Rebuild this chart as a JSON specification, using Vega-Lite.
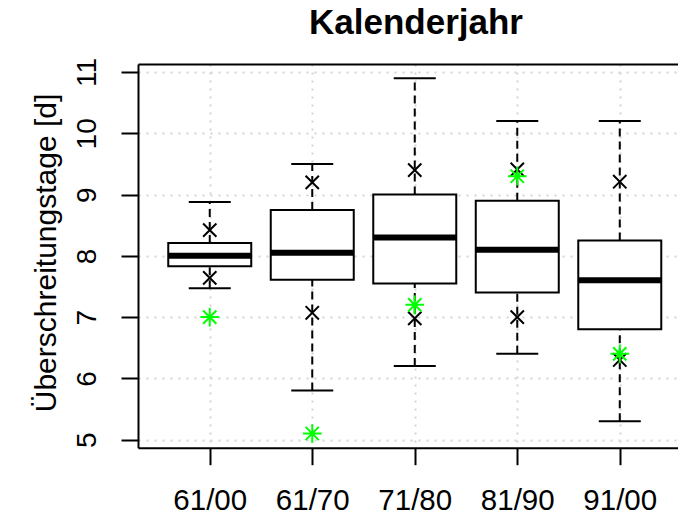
{
  "$schema": "https://vega.github.io/schema/vega-lite/v6.json",
  "autosize": {"type": "none"},
  "padding": {"left": 138, "top": 64, "right": 0, "bottom": 73.3},
  "width": 540,
  "height": 383.7,
  "title": {
    "text": "Kalenderjahr",
    "font": "Liberation Sans",
    "fontSize": 35,
    "fontWeight": "bold",
    "color": "black",
    "anchor": "middle",
    "frame": "group",
    "baseline": "alphabetic",
    "offset": -11.5,
    "dx": 8
  },
  "data": {
    "values": [
      {"period": "61/00", "lo": 7.47, "q1": 7.83, "med": 8.0, "q3": 8.21, "hi": 8.88, "xa": 8.42, "xb": 7.64, "star": 7.0},
      {"period": "61/70", "lo": 5.8, "q1": 7.61, "med": 8.05, "q3": 8.75, "hi": 9.5, "xa": 9.2, "xb": 7.07, "star": 5.1},
      {"period": "71/80", "lo": 6.2, "q1": 7.55, "med": 8.3, "q3": 9.0, "hi": 10.9, "xa": 9.4, "xb": 6.98, "star": 7.2},
      {"period": "81/90", "lo": 6.4, "q1": 7.4, "med": 8.1, "q3": 8.9, "hi": 10.2, "xa": 9.41, "xb": 7.0, "star": 9.3},
      {"period": "91/00", "lo": 5.3, "q1": 6.8, "med": 7.6, "q3": 8.25, "hi": 10.2, "xa": 9.21, "xb": 6.3, "star": 6.4}
    ]
  },
  "resolve": {"axis": {"x": "independent", "y": "independent"}},
  "layer": [
    {
      "mark": {"type": "rule", "color": "black", "strokeWidth": 2, "strokeDash": [8, 5]},
      "encoding": {
        "x": {
          "field": "period", "type": "nominal", "sort": null,
          "scale": {"type": "point", "padding": 0.634, "align": 0.552},
          "axis": {"orient": "bottom", "title": null, "labelAngle": 0, "labelBaseline": "alphabetic", "labelPadding": 45, "labelFontSize": 29.5, "grid": true}
        },
        "y": {
          "field": "lo", "type": "quantitative",
          "scale": {"domain": [4.868, 11.132], "nice": false, "zero": false},
          "axis": {
            "orient": "left",
            "values": [5, 6, 7, 8, 9, 10, 11],
            "grid": true,
            "labelAngle": 270,
            "labelAlign": "center",
            "labelBaseline": "alphabetic",
            "labelPadding": 26,
            "labelOverlap": false,
            "title": "Überschreitungstage [d]",
            "titleFontSize": 30,
            "titleAngle": 270,
            "titleAlign": "center",
            "titleBaseline": "alphabetic",
            "titleX": -83,
            "titleY": 188.5
          }
        },
        "y2": {"field": "q1"}
      }
    },
    {
      "mark": {"type": "rule", "color": "black", "strokeWidth": 2, "strokeDash": [8, 5]},
      "encoding": {
        "x": {"field": "period", "type": "nominal", "sort": null, "axis": null},
        "y": {"field": "q3", "type": "quantitative", "axis": null},
        "y2": {"field": "hi"}
      }
    },
    {
      "mark": {"type": "tick", "orient": "horizontal", "color": "black", "size": 42, "thickness": 2, "opacity": 1},
      "encoding": {
        "x": {"field": "period", "type": "nominal", "sort": null, "axis": null},
        "y": {"field": "hi", "type": "quantitative", "axis": null}
      }
    },
    {
      "mark": {"type": "tick", "orient": "horizontal", "color": "black", "size": 42, "thickness": 2, "opacity": 1},
      "encoding": {
        "x": {"field": "period", "type": "nominal", "sort": null, "axis": null},
        "y": {"field": "lo", "type": "quantitative", "axis": null}
      }
    },
    {
      "mark": {"type": "bar", "width": 83, "fill": "white", "stroke": "black", "strokeWidth": 2},
      "encoding": {
        "x": {"field": "period", "type": "nominal", "sort": null, "axis": null},
        "y": {"field": "q1", "type": "quantitative", "axis": null},
        "y2": {"field": "q3"}
      }
    },
    {
      "mark": {"type": "tick", "orient": "horizontal", "color": "black", "size": 83, "thickness": 6, "opacity": 1},
      "encoding": {
        "x": {"field": "period", "type": "nominal", "sort": null, "axis": null},
        "y": {"field": "med", "type": "quantitative", "axis": null}
      }
    },
    {
      "mark": {"type": "point", "shape": "M-1,-1L1,1M-1,1L1,-1", "filled": false, "stroke": "black", "strokeWidth": 2, "size": 177, "opacity": 1},
      "encoding": {
        "x": {"field": "period", "type": "nominal", "sort": null, "axis": null},
        "y": {"field": "xa", "type": "quantitative", "axis": null}
      }
    },
    {
      "mark": {"type": "point", "shape": "M-1,-1L1,1M-1,1L1,-1", "filled": false, "stroke": "black", "strokeWidth": 2, "size": 177, "opacity": 1},
      "encoding": {
        "x": {"field": "period", "type": "nominal", "sort": null, "axis": null},
        "y": {"field": "xb", "type": "quantitative", "axis": null}
      }
    },
    {
      "mark": {"type": "point", "shape": "M-1,-1L1,1M-1,1L1,-1M-1.414,0L1.414,0M0,-1.414L0,1.414", "filled": false, "stroke": "#00ff00", "strokeWidth": 2, "size": 175, "opacity": 1},
      "encoding": {
        "x": {
          "field": "period", "type": "nominal", "sort": null,
          "axis": {"orient": "top", "title": null, "labels": false, "ticks": false, "grid": false, "domain": true}
        },
        "y": {"field": "star", "type": "quantitative", "axis": null}
      }
    }
  ],
  "config": {
    "view": {"stroke": null},
    "axis": {
      "domainColor": "black",
      "domainWidth": 2,
      "tickColor": "black",
      "tickWidth": 2,
      "tickSize": 17,
      "labelFont": "Liberation Sans",
      "labelFontSize": 28,
      "labelColor": "black",
      "titleFont": "Liberation Sans",
      "titleFontSize": 28,
      "titleFontWeight": "normal",
      "titleColor": "black",
      "gridColor": "#d3d3d3",
      "gridDash": [2, 6],
      "gridWidth": 2
    }
  }
}
